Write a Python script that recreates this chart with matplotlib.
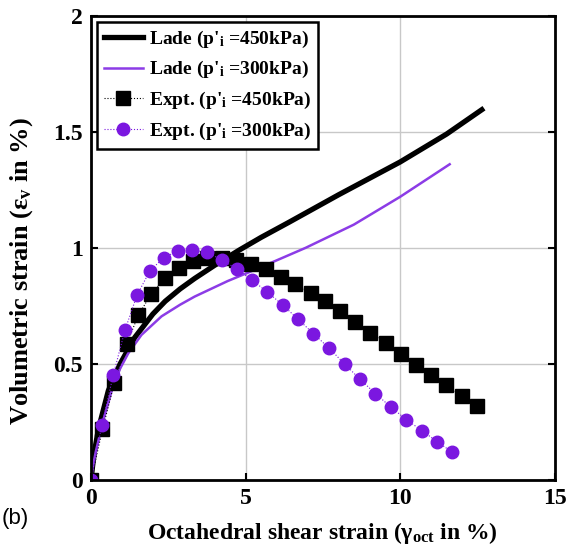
import numpy as np
import matplotlib
matplotlib.use('Agg')
import matplotlib.pyplot as plt

# Lade model curves
lade450_x = [0, 0.05, 0.12, 0.24, 0.56, 0.94, 1.42, 2.0, 2.4, 2.88, 3.35, 4.0, 4.79, 5.5, 6.4, 8.0, 10.0, 11.5, 12.64]
lade450_y = [0, 0.06, 0.13, 0.22, 0.385, 0.50, 0.615, 0.715, 0.77, 0.823, 0.868, 0.925, 0.99, 1.045, 1.11, 1.228, 1.37, 1.49, 1.595]
lade300_x = [0, 0.05, 0.15, 0.4, 0.67, 0.94, 1.2, 1.63, 2.28, 2.88, 3.35, 4.42, 5.29, 6.94, 8.5, 10.0, 11.6]
lade300_y = [0, 0.05, 0.12, 0.259, 0.385, 0.48, 0.545, 0.625, 0.705, 0.755, 0.79, 0.857, 0.905, 1.0, 1.1, 1.22, 1.36]

# experimental points
expt450_x = [0, 0.37, 0.75, 1.15, 1.53, 1.94, 2.39, 2.83, 3.30, 3.76, 4.25, 4.70, 5.16, 5.65,
             6.13, 6.61, 7.10, 7.57, 8.05, 8.55, 9.03, 9.53, 10.02, 10.52, 11.01, 11.49, 11.99, 12.47]
expt450_y = [0, 0.218, 0.417, 0.585, 0.71, 0.80, 0.87, 0.915, 0.945, 0.955, 0.955, 0.948, 0.93, 0.908,
             0.876, 0.843, 0.807, 0.77, 0.727, 0.681, 0.635, 0.589, 0.542, 0.494, 0.451, 0.408, 0.363, 0.32]
expt300_x = [0, 0.35, 0.72, 1.10, 1.49, 1.90, 2.35, 2.82, 3.28, 3.75, 4.24, 4.72, 5.20, 5.70,
             6.20, 6.70, 7.19, 7.70, 8.20, 8.70, 9.20, 9.71, 10.20, 10.71, 11.20, 11.69]
expt300_y = [0, 0.237, 0.453, 0.647, 0.797, 0.90, 0.958, 0.987, 0.991, 0.98, 0.948, 0.908, 0.862, 0.81,
             0.754, 0.692, 0.631, 0.568, 0.50, 0.434, 0.372, 0.313, 0.26, 0.212, 0.165, 0.119]

xticks = [0, 5, 10, 15]
yticks = [0, 0.5, 1, 1.5, 2]
ytick_labels = ['0', '0.5', '1', '1.5', '2']

purple = '#7b17e0'
purple_line = '#8c3ce6'

plt.rcParams['font.family'] = 'Liberation Serif'
plt.rcParams['font.weight'] = 'bold'
plt.rcParams['mathtext.fontset'] = 'custom'
plt.rcParams['mathtext.rm'] = 'Liberation Serif:bold'
plt.rcParams['mathtext.it'] = 'Liberation Serif:bold'
plt.rcParams['mathtext.bf'] = 'Liberation Serif:bold'

fig = plt.figure(figsize=(5.69, 5.52), dpi=100)
ax = fig.add_axes([0.16, 0.1304, 0.815, 0.8412])

ax.plot(lade450_x, lade450_y, '-', color='black', lw=3.8, solid_joinstyle='round',
        label="Lade (p'$_{\\mathrm{i}}$ =450kPa)")
ax.plot(lade300_x, lade300_y, '-', color=purple_line, lw=1.8, solid_joinstyle='round',
        label="Lade (p'$_{\\mathrm{i}}$ =300kPa)")
ax.plot(expt450_x, expt450_y, ':', color='black', lw=0.8, marker='s', ms=9.5, mfc='black', mec='black',
        label="Expt. (p'$_{\\mathrm{i}}$ =450kPa)")
ax.plot(expt300_x, expt300_y, ':', color=purple, lw=0.8, marker='o', ms=9, mfc=purple, mec=purple,
        label="Expt. (p'$_{\\mathrm{i}}$ =300kPa)")

ax.set_xlim(0, 15)
ax.set_ylim(0, 2)
ax.set_xticks(xticks)
ax.set_yticks(yticks)
ax.set_yticklabels(ytick_labels)
ax.grid(True, color='#c8c8c8', lw=1.0)
ax.set_axisbelow(True)
for s in ax.spines.values():
    s.set_linewidth(2.0)
ax.tick_params(direction='in', length=5, width=1.5, labelsize=17, pad=6, top=False, right=True)
for lbl in ax.get_xticklabels() + ax.get_yticklabels():
    lbl.set_fontweight('bold')

ax.set_xlabel('Octahedral shear strain (\u03b3$_{\\mathrm{oct}}$ in %)', fontsize=17, fontweight='bold', labelpad=8)
ax.set_ylabel('Volumetric strain (\u03b5$_{\\mathrm{v}}$ in %)', fontsize=19, fontweight='bold')
ax.yaxis.set_label_coords(-0.12, 0.45)

leg = ax.legend(loc='upper left', bbox_to_anchor=(0.013, 0.987), borderaxespad=0, fontsize=14, numpoints=1,
                handlelength=2.0, handletextpad=0.3, borderpad=0.35, labelspacing=0.5,
                fancybox=False, framealpha=1, edgecolor='black')
leg.get_frame().set_linewidth(1.8)

fig.text(0.003, 0.05, '(b)', fontsize=16, family='Liberation Sans', fontweight='normal')

fig.savefig('out.png', dpi=100)
